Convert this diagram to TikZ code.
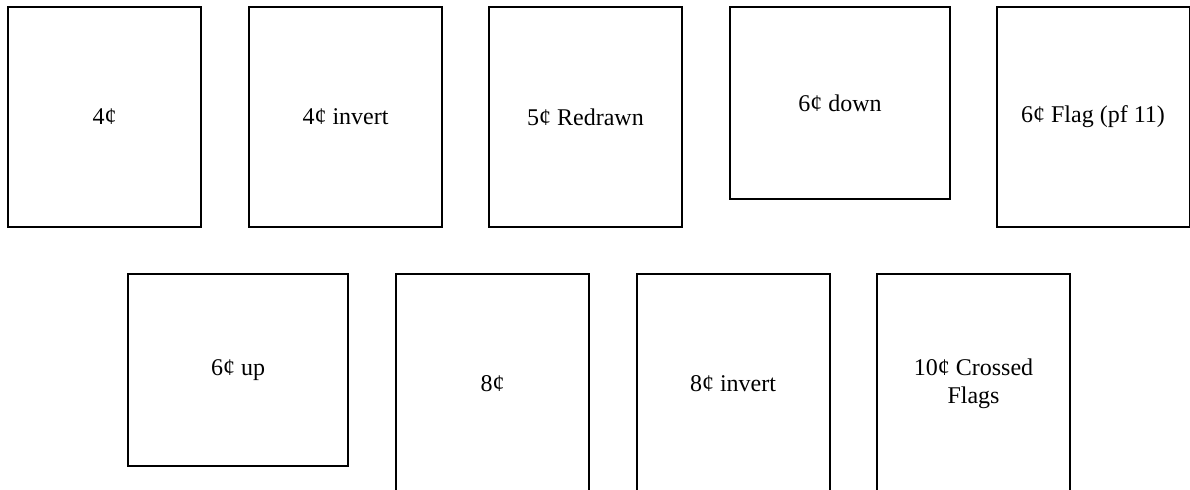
\documentclass[tikz,border=0pt]{standalone}
\usepackage{fontspec}
\setmainfont{Liberation Serif}
\begin{document}
\begin{tikzpicture}[x=0.5pt,y=-0.5pt,
  stamp/.style={draw=black, line width=1pt, rectangle, inner sep=0pt, outer sep=0pt,
    align=center, font=\fontsize{12pt}{14pt}\selectfont},
  tall/.style={stamp, minimum width=96.5pt, minimum height=110pt},
  wide/.style={stamp, minimum width=110pt, minimum height=96pt}]
\useasboundingbox (0,0) rectangle (1190,490);
\clip (0,0) rectangle (1190,490);
% top row
\node[tall] (s4) at (104.5,117) {4¢};
\node[tall] (s4i) at (345.5,117) {4¢ invert};
\node[tall] (s5r) at (585.5,117) {5¢ Redrawn};
\node[wide] (s6d) at (840,103) {6¢ down};
\node[tall] (s6f) at (1093,117) {6¢ Flag (pf 11)};
% bottom row
\node[wide] (s6u) at (238,370) {6¢ up};
\node[tall] (s8) at (492.5,384) {8¢};
\node[tall] (s8i) at (733,384) {8¢ invert};
\node[tall] (s10) at (973.5,384) {10¢ Crossed\\Flags};
\end{tikzpicture}
\end{document}
